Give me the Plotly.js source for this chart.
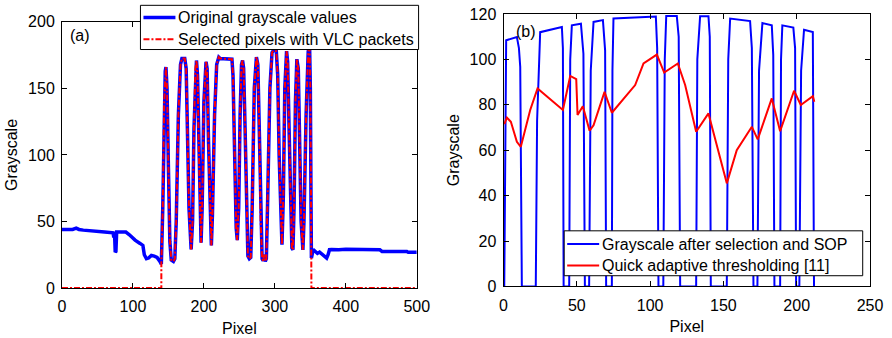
<!DOCTYPE html>
<html>
<head>
<meta charset="utf-8">
<script src="https://cdn.plot.ly/plotly-3.0.1.min.js"></script>
<style>html,body{margin:0;padding:0;background:#fff;}#chart{width:892px;height:338px;}</style>
</head>
<body>
<div id="chart"></div>
<script>
// ---------- Panel (a): original grayscale values along the pixel row ----------
var pixelA = [0,15,20,24,30,45,60,72,73,74,75,76,77,78,90,95,103,110,114,116,119,122,126,130,134,138,140,
  142,144,145.5,146.5,148,150,152,154,157,159,161,164,167,169,173,175,177,179,182,184,186,188,189.5,191,193,195,196,197.5,200,203,204.5,206.5,209,210.5,212,215,218,221,223,236,239.5,241,243,245.5,247,249,251,253,254.5,256,258,260,262,264,266,268,271,274,276,278,280,282,283.5,285,286.5,288,290,293,296,298,302,304,306,308.5,310,312,314,316.5,318,320,322,324,325.5,327,329,331,333,335,337,339.5,341,344,347,349,350,351,351.5,
  354,357,360,363,366,370,373,375,377,380,390,400,430,448,451,486,488,500];
var grayA = [44,44,45,44,43.5,42.5,42,41.5,38,42,27,27.5,42,42,42,40,36,33.5,32,25,22,22.5,24.5,24,23,20,18,
  60,140,163,166,150,90,35,21,20,22,50,130,168,172.5,172.5,165,120,60,29,50,120,165,171,160,100,45,34,60,140,170,165,110,45,32,55,130,168,173.5,172.5,172.5,172,160,100,45,36,60,130,168,171,165,120,60,24,22,23,60,150,173.5,168,120,50,22,20.5,25,20,22,70,150,177,178.5,178,160,100,45,32.5,70,150,178,170,120,60,30,28.7,60,140,172,165,110,50,28.7,50,130,178,180,150,60,22.5,
  29,27,26,27,25.5,24,22.5,25,28.8,29,28.7,29.2,29,28.7,27.5,27.5,26.8,26.8];
// pixel window carrying VLC packets
var vlcStart = 140, vlcEnd = 351.5;

// ---------- Panel (b): grayscale after selection & SOP, and quick adaptive threshold ----------
var pixelB = [0.5,1.8,9.1,10.5,11.4,12.5,22,22.9,25,39.8,40.5,41,44.8,45.5,46.6,52.8,54.5,55.5,58.4,59.5,61.4,67.8,69.3,70,73.9,74.3,75,103.9,104.8,105.7,109,110,111,118.2,119.5,120.5,131.4,132.2,134.1,139.8,140.7,141.4,152.3,153.3,154.6,168.2,169.4,170.5,173.2,174.3,176.6,183,184,184.8,188.7,189.3,190.2,197.7,198.9,199.6,201.8,203,205,211,211.8];
var sopB = [0,108.4,109.9,105,96.7,0,0,73,112,114.3,105,0,0,100,115,115.7,102.5,0,0,95,116.5,117.3,104,0,0,95,118,118.9,105,0,0,100,119.1,119.1,110,0,0,100,119,119,110,0,0,100,118,116.9,105,0,0,95,116,115,102,0,0,100,115,114,105,0,0,95,113.1,112.1,0];
var pixelT = [0.5,2.3,5,9.1,11.8,18.2,23.2,40.5,45.5,49.6,50.5,52.5,54.1,58.7,61.4,68.9,73.9,89.8,95.5,104.6,109.6,118.9,123.9,131.4,139.8,152.3,159.1,169.4,173.4,183,188.7,198.2,202.8,211,212];
var thrT = [71.5,74.4,72.5,63.7,61.5,77.7,87.2,77.7,92.7,91.3,75.5,78,79.4,68.6,71,85.7,76.5,88.7,98.2,102.1,94.2,98.2,88.7,68.1,76.2,45.4,60,70.3,64.8,82.8,68.4,86.2,79.9,83.8,81.3];

var xTicksA = [0,100,200,300,400,500], yTicksA = [0,50,100,150,200];
var xTicksB = [0,50,100,150,200,250], yTicksB = [0,20,40,60,80,100,120];
var namesA = ['Original grayscale values', 'Selected pixels with VLC packets'];
var namesB = ['Grayscale after selection and SOP', 'Quick adaptive thresholding [11]'];

// selected pixels: zero outside the VLC window, original values inside
var selX = [0, vlcStart], selY = [0, 0];
for (var i = 0; i < pixelA.length; i++) {
  if (pixelA[i] >= vlcStart && pixelA[i] <= vlcEnd) { selX.push(pixelA[i]); selY.push(grayA[i]); }
}
selX.push(vlcEnd, 500); selY.push(0, 0);

// ---------- layout geometry ----------
var W = 892, H = 338;
var ml = 61.5, mr = 22, mt = 13.7, mb = 49.7;
var PW = W - ml - mr, PH = H - mt - mb;
function px2x(p) { return (p - ml) / PW; }
function py2y(p) { return (H - mb - p) / PH; }

var FONT = 'Liberation Sans, Arial, sans-serif';
function axisBase(extra) {
  var a = {
    showline: true, mirror: 'ticks', linecolor: '#000', linewidth: 1,
    ticks: 'inside', ticklen: 5, tickwidth: 1, tickcolor: '#000',
    showgrid: false, zeroline: false, fixedrange: true,
    tickfont: {family: FONT, size: 16, color: '#000'}
  };
  for (var k in extra) a[k] = extra[k];
  return a;
}

var styleBlueA = {color: '#0000ff', width: 3.5};
var styleRedA = {color: '#ff0000', width: 2, dash: '6px,2px,2px,2px'};
var styleBlueB = {color: '#0000ff', width: 2};
var styleRedB = {color: '#ff0000', width: 2};

var traces = [
  {x: pixelA, y: grayA, type: 'scatter', mode: 'lines', name: namesA[0], line: styleBlueA, xaxis: 'x', yaxis: 'y'},
  {x: selX, y: selY, type: 'scatter', mode: 'lines', name: namesA[1], line: styleRedA, xaxis: 'x', yaxis: 'y'},
  {x: pixelB, y: sopB, type: 'scatter', mode: 'lines', name: namesB[0], line: styleBlueB, xaxis: 'x2', yaxis: 'y2'},
  {x: pixelT, y: thrT, type: 'scatter', mode: 'lines', name: namesB[1], line: styleRedB, xaxis: 'x2', yaxis: 'y2'}
];

// MATLAB-style legend boxes (box, line samples, labels)
var shapes = [], annotations = [];
function addLegend(box, rows, names, styles) {
  shapes.push({type: 'rect', xref: 'paper', yref: 'paper',
    x0: px2x(box[0]), x1: px2x(box[1]), y0: py2y(box[3]), y1: py2y(box[2]),
    line: {color: '#000', width: 1}, fillcolor: '#fff', layer: 'above'});
  for (var r = 0; r < rows.length; r++) {
    var st = styles[r];
    shapes.push({type: 'line', xref: 'paper', yref: 'paper',
      x0: px2x(box[0] + 3), x1: px2x(box[0] + 35), y0: py2y(rows[r]), y1: py2y(rows[r]),
      line: {color: st.color, width: st.width, dash: st.dash || 'solid'}, layer: 'above'});
    annotations.push({text: names[r], xref: 'paper', yref: 'paper', x: px2x(box[0] + 36), y: py2y(rows[r]),
      xanchor: 'left', yanchor: 'middle', showarrow: false, font: {family: FONT, size: 16, color: '#000'}});
  }
}
addLegend([140, 418.3, 5, 49.3], [17.3, 39], namesA, [styleBlueA, styleRedA]);
addLegend([564, 862.7, 231, 276], [244.3, 265.7], namesB, [styleBlueB, styleRedB]);
annotations.push({text: '(a)', x: 26, y: 190, xref: 'x', yref: 'y', showarrow: false, font: {family: FONT, size: 16, color: '#000'}});
annotations.push({text: '(b)', x: 15.5, y: 112.4, xref: 'x2', yref: 'y2', showarrow: false, font: {family: FONT, size: 16, color: '#000'}});

var layout = {
  width: W, height: H,
  margin: {l: ml, r: mr, t: mt, b: mb, pad: 0},
  paper_bgcolor: '#fff', plot_bgcolor: '#fff',
  font: {family: FONT, size: 16, color: '#000'},
  showlegend: false,
  xaxis: axisBase({domain: [0, px2x(416.5)], range: [0, 500], tickvals: xTicksA, anchor: 'y', ticklabelstandoff: 4,
    title: {text: 'Pixel', font: {family: FONT, size: 16}, standoff: 8}}),
  yaxis: axisBase({domain: [0, py2y(21.6)], range: [0, 200], tickvals: yTicksA, anchor: 'x', ticklabelstandoff: 3,
    title: {text: 'Grayscale', font: {family: FONT, size: 16}, standoff: 6}}),
  xaxis2: axisBase({domain: [px2x(503.3), 1], range: [0, 250], tickvals: xTicksB, anchor: 'y2', ticklabelstandoff: 4,
    title: {text: 'Pixel', font: {family: FONT, size: 16}, standoff: 8}}),
  yaxis2: axisBase({domain: [py2y(286.7), 1], range: [0, 120], tickvals: yTicksB, anchor: 'x2', ticklabelstandoff: 3,
    title: {text: 'Grayscale', font: {family: FONT, size: 16}, standoff: 6}}),
  shapes: shapes,
  annotations: annotations
};

Plotly.newPlot('chart', traces, layout, {staticPlot: true, displayModeBar: false});
</script>
</body>
</html>
